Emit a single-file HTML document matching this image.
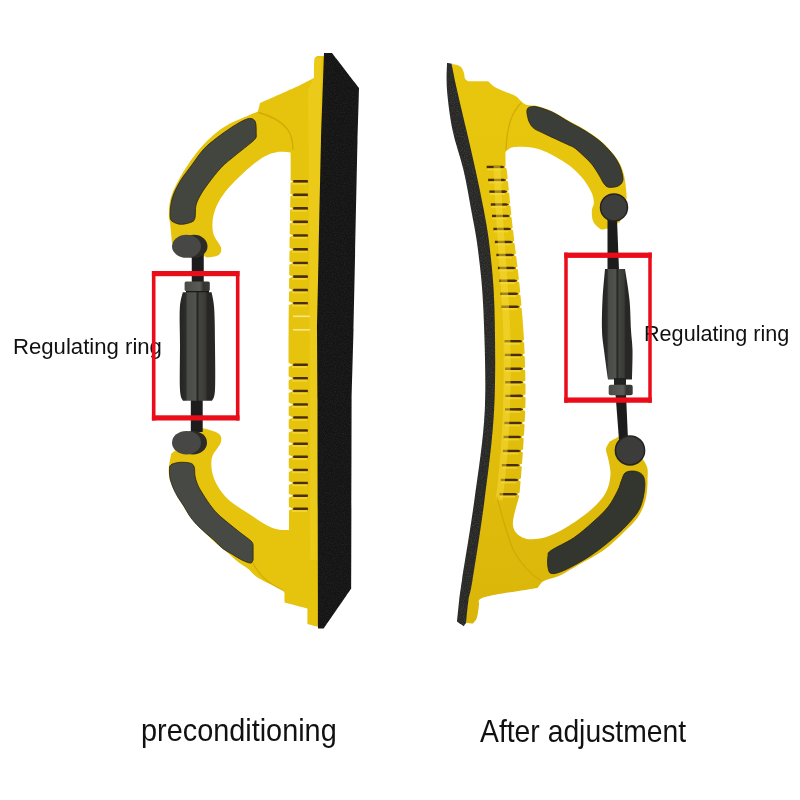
<!DOCTYPE html>
<html><head><meta charset="utf-8">
<style>
html,body{margin:0;padding:0;background:#fff;width:800px;height:800px;overflow:hidden}
svg{position:absolute;left:0;top:0}
.t{position:absolute;font-family:"Liberation Sans",sans-serif;color:#111;white-space:nowrap;transform-origin:0 0;line-height:normal}
</style></head><body>
<svg width="800" height="800" viewBox="0 0 800 800">
<path fill="#e6c30c" d="M314.2,61.0 C314.6,57.4 315.5,57.4 316.5,56.6 C317.5,55.8 318.4,56.1 320.0,56.0 C321.6,55.9 325.0,56.0 326.0,56.0 C325.7,70.0 324.3,126.0 324.0,140.0 C323.3,171.7 320.7,298.3 320.0,330.0 C320.2,379.5 320.8,577.5 321.0,627.0 C320.3,626.9 317.4,626.6 316.7,626.5 C315.1,626.1 308.9,624.4 307.4,624.0 C307.4,621.4 307.4,611.1 307.4,608.5 C303.6,607.5 288.3,603.4 284.5,602.4 C284.5,600.8 284.5,594.6 284.5,593.0 C284.3,592.6 283.5,590.9 283.3,590.5 C279.8,588.8 266.8,582.6 262.0,580.0 C257.2,577.4 256.7,576.9 254.4,575.0 C252.1,573.1 250.6,570.8 248.0,568.8 C245.4,566.7 242.1,565.1 238.8,562.5 C235.4,559.9 232.3,556.7 228.0,553.0 C223.7,549.3 218.5,545.7 213.0,540.5 C207.5,535.3 200.0,527.8 195.0,522.0 C190.0,516.2 186.7,511.2 183.0,505.5 C179.3,499.8 175.2,492.1 173.0,487.5 C170.8,482.9 170.2,481.2 169.5,478.0 C168.8,474.8 168.5,472.0 168.8,468.0 C169.1,464.0 170.8,456.2 171.2,453.8 C176.5,449.5 197.5,432.2 202.8,427.9 C205.4,428.8 215.5,431.1 218.5,433.5 C221.5,435.9 221.9,438.4 220.8,442.5 C219.7,446.6 212.9,452.3 211.8,458.3 C210.7,464.3 211.4,471.8 214.0,478.5 C216.6,485.2 221.5,492.8 227.5,498.8 C233.5,504.8 242.5,509.6 250.0,514.5 C257.5,519.4 266.0,525.4 272.5,528.0 C279.0,530.6 286.2,529.7 289.0,530.0 C288.9,502.5 288.7,398.3 288.6,365.0 C288.5,331.7 288.5,349.2 288.6,330.0 C288.8,310.8 289.2,274.8 289.5,250.0 C289.8,225.2 290.4,197.2 290.6,181.0 C290.8,164.8 290.6,157.2 290.6,152.5 C288.4,152.4 281.8,151.3 277.5,151.9 C273.2,152.5 269.2,154.1 265.0,156.2 C260.8,158.4 256.5,161.9 252.5,165.0 C248.5,168.1 245.0,171.5 241.2,175.0 C237.5,178.5 233.3,182.5 230.0,186.2 C226.7,190.0 223.8,193.5 221.2,197.5 C218.8,201.5 216.5,205.8 215.0,210.0 C213.5,214.2 212.7,218.3 212.5,222.5 C212.3,226.7 212.3,230.8 213.8,235.0 C215.2,239.2 220.2,244.2 221.0,247.5 C221.8,250.8 221.0,253.3 218.8,255.0 C216.5,256.7 209.4,257.1 207.5,257.5 C201.6,255.1 177.9,245.4 172.0,243.0 C171.7,239.6 170.5,226.7 170.0,222.5 C169.5,218.3 169.1,220.8 169.0,218.0 C168.9,215.2 168.7,209.7 169.3,205.5 C169.9,201.3 170.7,197.5 172.4,193.0 C174.1,188.5 176.8,183.4 179.5,178.5 C182.2,173.6 185.3,168.6 188.8,163.5 C192.3,158.4 196.3,152.8 200.5,148.0 C204.7,143.2 209.1,138.6 214.0,134.5 C218.9,130.4 224.4,126.6 230.0,123.5 C235.6,120.4 242.8,117.9 247.5,115.9 C252.2,113.9 256.2,112.2 258.0,111.5 C258.3,110.1 259.7,104.4 260.0,103.0 C266.7,100.0 293.3,88.2 300.0,85.2 C302.3,84.0 311.7,79.2 314.0,78.0 C314.0,75.2 313.8,64.6 314.2,61.0 Z" />
<g>
<path d="M292,181.4 L294,180.1 L307.5,180.1 Q308.8,181.4 307.5,182.7 L294,182.7 Z" fill="#4a2e00"/>
<path d="M288,179.0 Q291,180.6 293.5,181.4 Q291,182.2 288,183.8 Z" fill="#fffbe8"/>
<rect x="292" y="182.7" width="15" height="2" fill="#f8df4a" opacity="0.6"/>
<path d="M292,194.9 L294,193.6 L307.5,193.6 Q308.8,194.9 307.5,196.2 L294,196.2 Z" fill="#4a2e00"/>
<path d="M288,192.5 Q291,194.1 293.5,194.9 Q291,195.7 288,197.3 Z" fill="#fffbe8"/>
<rect x="292" y="196.2" width="15" height="2" fill="#f8df4a" opacity="0.6"/>
<path d="M292,208.4 L294,207.1 L307.5,207.1 Q308.8,208.4 307.5,209.7 L294,209.7 Z" fill="#4a2e00"/>
<path d="M288,206.0 Q291,207.6 293.5,208.4 Q291,209.2 288,210.8 Z" fill="#fffbe8"/>
<rect x="292" y="209.7" width="15" height="2" fill="#f8df4a" opacity="0.6"/>
<path d="M292,221.9 L294,220.6 L307.5,220.6 Q308.8,221.9 307.5,223.2 L294,223.2 Z" fill="#4a2e00"/>
<path d="M288,219.5 Q291,221.1 293.5,221.9 Q291,222.7 288,224.3 Z" fill="#fffbe8"/>
<rect x="292" y="223.2" width="15" height="2" fill="#f8df4a" opacity="0.6"/>
<path d="M292,235.5 L294,234.2 L307.5,234.2 Q308.8,235.5 307.5,236.8 L294,236.8 Z" fill="#4a2e00"/>
<path d="M288,233.1 Q291,234.7 293.5,235.5 Q291,236.3 288,237.9 Z" fill="#fffbe8"/>
<rect x="292" y="236.8" width="15" height="2" fill="#f8df4a" opacity="0.6"/>
<path d="M292,249.4 L294,248.1 L307.5,248.1 Q308.8,249.4 307.5,250.7 L294,250.7 Z" fill="#4a2e00"/>
<path d="M288,247.0 Q291,248.6 293.5,249.4 Q291,250.2 288,251.8 Z" fill="#fffbe8"/>
<rect x="292" y="250.7" width="15" height="2" fill="#f8df4a" opacity="0.6"/>
<path d="M292,263.0 L294,261.7 L307.5,261.7 Q308.8,263.0 307.5,264.3 L294,264.3 Z" fill="#4a2e00"/>
<path d="M288,260.6 Q291,262.2 293.5,263.0 Q291,263.8 288,265.4 Z" fill="#fffbe8"/>
<rect x="292" y="264.3" width="15" height="2" fill="#f8df4a" opacity="0.6"/>
<path d="M292,276.6 L294,275.3 L307.5,275.3 Q308.8,276.6 307.5,277.9 L294,277.9 Z" fill="#4a2e00"/>
<path d="M288,274.2 Q291,275.8 293.5,276.6 Q291,277.4 288,279.0 Z" fill="#fffbe8"/>
<rect x="292" y="277.9" width="15" height="2" fill="#f8df4a" opacity="0.6"/>
<path d="M292,290.1 L294,288.8 L307.5,288.8 Q308.8,290.1 307.5,291.4 L294,291.4 Z" fill="#4a2e00"/>
<path d="M288,287.7 Q291,289.3 293.5,290.1 Q291,290.9 288,292.5 Z" fill="#fffbe8"/>
<rect x="292" y="291.4" width="15" height="2" fill="#f8df4a" opacity="0.6"/>
<path d="M292,303.2 L294,301.9 L307.5,301.9 Q308.8,303.2 307.5,304.5 L294,304.5 Z" fill="#4a2e00"/>
<path d="M288,300.8 Q291,302.4 293.5,303.2 Q291,304.0 288,305.6 Z" fill="#fffbe8"/>
<rect x="292" y="304.5" width="15" height="2" fill="#f8df4a" opacity="0.6"/>
<path d="M292,364.8 L294,363.5 L307.5,363.5 Q308.8,364.8 307.5,366.1 L294,366.1 Z" fill="#4a2e00"/>
<path d="M288,362.4 Q291,364.0 293.5,364.8 Q291,365.6 288,367.2 Z" fill="#fffbe8"/>
<rect x="292" y="366.1" width="15" height="2" fill="#f8df4a" opacity="0.6"/>
<path d="M292,378.3 L294,377.0 L307.5,377.0 Q308.8,378.3 307.5,379.6 L294,379.6 Z" fill="#4a2e00"/>
<path d="M288,375.9 Q291,377.5 293.5,378.3 Q291,379.1 288,380.7 Z" fill="#fffbe8"/>
<rect x="292" y="379.6" width="15" height="2" fill="#f8df4a" opacity="0.6"/>
<path d="M292,391.0 L294,389.7 L307.5,389.7 Q308.8,391.0 307.5,392.3 L294,392.3 Z" fill="#4a2e00"/>
<path d="M288,388.6 Q291,390.2 293.5,391.0 Q291,391.8 288,393.4 Z" fill="#fffbe8"/>
<rect x="292" y="392.3" width="15" height="2" fill="#f8df4a" opacity="0.6"/>
<path d="M292,404.5 L294,403.2 L307.5,403.2 Q308.8,404.5 307.5,405.8 L294,405.8 Z" fill="#4a2e00"/>
<path d="M288,402.1 Q291,403.7 293.5,404.5 Q291,405.3 288,406.9 Z" fill="#fffbe8"/>
<rect x="292" y="405.8" width="15" height="2" fill="#f8df4a" opacity="0.6"/>
<path d="M292,417.5 L294,416.2 L307.5,416.2 Q308.8,417.5 307.5,418.8 L294,418.8 Z" fill="#4a2e00"/>
<path d="M288,415.1 Q291,416.7 293.5,417.5 Q291,418.3 288,419.9 Z" fill="#fffbe8"/>
<rect x="292" y="418.8" width="15" height="2" fill="#f8df4a" opacity="0.6"/>
<path d="M292,430.5 L294,429.2 L307.5,429.2 Q308.8,430.5 307.5,431.8 L294,431.8 Z" fill="#4a2e00"/>
<path d="M288,428.1 Q291,429.7 293.5,430.5 Q291,431.3 288,432.9 Z" fill="#fffbe8"/>
<rect x="292" y="431.8" width="15" height="2" fill="#f8df4a" opacity="0.6"/>
<path d="M292,443.8 L294,442.4 L307.5,442.4 Q308.8,443.8 307.5,445.1 L294,445.1 Z" fill="#4a2e00"/>
<path d="M288,441.4 Q291,442.9 293.5,443.8 Q291,444.6 288,446.1 Z" fill="#fffbe8"/>
<rect x="292" y="445.1" width="15" height="2" fill="#f8df4a" opacity="0.6"/>
<path d="M292,456.8 L294,455.4 L307.5,455.4 Q308.8,456.8 307.5,458.1 L294,458.1 Z" fill="#4a2e00"/>
<path d="M288,454.4 Q291,455.9 293.5,456.8 Q291,457.6 288,459.1 Z" fill="#fffbe8"/>
<rect x="292" y="458.1" width="15" height="2" fill="#f8df4a" opacity="0.6"/>
<path d="M292,470.0 L294,468.7 L307.5,468.7 Q308.8,470.0 307.5,471.3 L294,471.3 Z" fill="#4a2e00"/>
<path d="M288,467.6 Q291,469.2 293.5,470.0 Q291,470.8 288,472.4 Z" fill="#fffbe8"/>
<rect x="292" y="471.3" width="15" height="2" fill="#f8df4a" opacity="0.6"/>
<path d="M292,483.0 L294,481.7 L307.5,481.7 Q308.8,483.0 307.5,484.3 L294,484.3 Z" fill="#4a2e00"/>
<path d="M288,480.6 Q291,482.2 293.5,483.0 Q291,483.8 288,485.4 Z" fill="#fffbe8"/>
<rect x="292" y="484.3" width="15" height="2" fill="#f8df4a" opacity="0.6"/>
<path d="M292,495.8 L294,494.4 L307.5,494.4 Q308.8,495.8 307.5,497.1 L294,497.1 Z" fill="#4a2e00"/>
<path d="M288,493.4 Q291,494.9 293.5,495.8 Q291,496.6 288,498.1 Z" fill="#fffbe8"/>
<rect x="292" y="497.1" width="15" height="2" fill="#f8df4a" opacity="0.6"/>
<path d="M292,508.8 L294,507.4 L307.5,507.4 Q308.8,508.8 307.5,510.1 L294,510.1 Z" fill="#4a2e00"/>
<path d="M288,506.4 Q291,507.9 293.5,508.8 Q291,509.6 288,511.1 Z" fill="#fffbe8"/>
<rect x="292" y="510.1" width="15" height="2" fill="#f8df4a" opacity="0.6"/>
<rect x="293" y="315.5" width="17" height="1.6" fill="#f8e48a"/>
<rect x="293" y="329.0" width="17" height="1.6" fill="#f8e48a"/>
</g>
<path d="M314,58 L321,58 L317.5,560 L310,560 L309.5,300 L308,90 L314,78 Z" fill="#f8dc3c" opacity="0.3"/>
<path d="M258.5,112.5 C268,115 280,119 288,130 C292,136 293,142 293,150" fill="none" stroke="#c9a000" stroke-width="1.3" opacity="0.7"/>
<path d="M253,563 C258,574 266,582 284,591" fill="none" stroke="#c9a000" stroke-width="1.3" opacity="0.6"/>
<path d="M175,470 C178,500 195,525 220,545" fill="none" stroke="#f9e37a" stroke-width="2" opacity="0"/>
<defs><filter id="nz" x="0" y="0" width="100%" height="100%"><feTurbulence type="fractalNoise" baseFrequency="0.9" numOctaves="2" seed="3" result="t"/><feColorMatrix in="t" type="matrix" values="0 0 0 0 0.55  0 0 0 0 0.55  0 0 0 0 0.5  0 0 0 -2.2 1.35" result="n"/><feComposite in="n" in2="SourceGraphic" operator="in"/></filter></defs>
<path fill="#141414" d="M324.0,53.0 C325.3,53.0 330.7,53.0 332.0,53.0 C336.5,58.8 354.5,82.2 359.0,88.0 C358.8,96.7 357.8,131.3 357.5,140.0 C356.8,171.7 354.2,298.3 353.5,330.0 C353.2,341.7 351.9,388.3 351.6,400.0 C351.5,431.4 351.3,557.0 351.2,588.4 C346.6,595.1 328.2,621.9 323.6,628.6 C322.7,628.6 318.9,628.4 318.0,628.4 C317.9,590.3 317.6,438.1 317.5,400.0 C317.4,388.3 317.1,341.7 317.0,330.0 C317.7,298.3 320.3,171.7 321.0,140.0 C321.5,125.5 323.5,67.5 324.0,53.0 Z" />
<path fill="#000" d="M324.0,53.0 C325.3,53.0 330.7,53.0 332.0,53.0 C336.5,58.8 354.5,82.2 359.0,88.0 C358.8,96.7 357.8,131.3 357.5,140.0 C356.8,171.7 354.2,298.3 353.5,330.0 C353.2,341.7 351.9,388.3 351.6,400.0 C351.5,431.4 351.3,557.0 351.2,588.4 C346.6,595.1 328.2,621.9 323.6,628.6 C322.7,628.6 318.9,628.4 318.0,628.4 C317.9,590.3 317.6,438.1 317.5,400.0 C317.4,388.3 317.1,341.7 317.0,330.0 C317.7,298.3 320.3,171.7 321.0,140.0 C321.5,125.5 323.5,67.5 324.0,53.0 Z" filter="url(#nz)" opacity="0.08"/>
<path fill="#43453f" d="M251.0,118.5 C252.9,118.8 254.5,119.7 255.4,122.0 C256.3,124.3 256.2,129.7 256.2,132.5 C256.2,135.3 256.9,136.4 255.4,138.6 C253.9,140.8 251.0,142.7 247.5,145.6 C244.0,148.5 238.8,152.4 234.4,156.1 C230.0,159.8 225.6,162.9 221.2,167.5 C216.9,172.1 211.6,179.0 208.1,183.7 C204.6,188.4 202.0,192.2 200.0,195.9 C198.0,199.6 196.7,202.0 195.9,205.7 C195.1,209.3 195.7,215.1 195.0,217.8 C194.3,220.5 194.1,220.8 191.8,221.9 C189.5,223.0 184.4,224.3 181.2,224.3 C178.1,224.3 174.9,223.0 173.1,221.9 C171.3,220.8 170.7,220.5 170.3,217.8 C169.9,215.1 170.1,209.8 170.7,205.7 C171.3,201.6 172.1,197.8 173.9,193.5 C175.7,189.2 178.3,184.3 181.2,179.6 C184.2,174.8 188.1,170.1 191.8,165.0 C195.6,159.9 199.6,153.6 203.8,149.1 C207.9,144.6 212.2,141.4 216.9,137.8 C221.6,134.1 227.2,130.2 231.8,127.2 C236.3,124.3 240.8,121.7 244.0,120.2 C247.2,118.8 249.1,118.2 251.0,118.5 Z" stroke="#2a2410" stroke-width="0.8"/>
<path fill="#474944" d="M171.0,464.8 C172.8,463.5 176.8,462.6 180.0,462.3 C183.2,462.1 188.1,462.5 190.5,463.2 C192.9,464.0 193.5,464.9 194.2,467.0 C195.0,469.1 194.5,473.2 195.0,476.0 C195.5,478.8 196.2,481.0 197.2,483.5 C198.2,486.0 198.9,487.5 201.0,491.0 C203.1,494.5 207.2,501.0 210.0,504.8 C212.8,508.5 214.4,510.6 217.5,513.8 C220.6,516.9 225.0,520.4 228.8,523.5 C232.5,526.6 236.2,529.5 240.0,532.5 C243.8,535.5 249.1,539.2 251.2,541.2 C253.4,543.3 252.8,544.4 253.1,545.0 C253.1,547.5 253.1,557.5 253.1,560.0 C252.7,560.5 252.5,563.1 250.6,563.1 C248.7,563.1 244.9,561.5 241.9,560.0 C238.9,558.5 235.6,556.3 232.5,554.4 C229.4,552.5 226.2,551.1 223.1,548.8 C220.0,546.4 217.2,543.1 213.8,540.0 C210.3,536.9 205.6,533.1 202.5,530.2 C199.4,527.4 197.2,525.3 195.0,522.8 C192.8,520.2 190.9,517.8 189.0,515.0 C187.1,512.2 185.6,509.0 183.8,506.0 C181.9,503.0 179.5,500.0 177.8,497.0 C176.0,494.0 174.5,491.0 173.2,488.0 C172.0,485.0 170.9,482.0 170.2,479.0 C169.6,476.0 169.4,472.4 169.5,470.0 C169.6,467.6 169.2,466.0 171.0,464.8 Z" stroke="#2a2410" stroke-width="0.8"/>
<rect x="191.75" y="252" width="12" height="32" fill="#1c1c1c"/>
<rect x="190.8" y="398" width="11.9" height="34" fill="#1c1c1c"/>
<ellipse cx="194" cy="246.3" rx="13.5" ry="11.5" fill="#2c2b28"/><ellipse cx="186.5" cy="246.3" rx="14.5" ry="11.5" fill="#474845"/>
<ellipse cx="193" cy="442.7" rx="14" ry="11.8" fill="#2c2b28"/><ellipse cx="186.5" cy="442.7" rx="14.5" ry="11.8" fill="#474845"/>
<defs><linearGradient id="tbg" x1="0" y1="0" x2="1" y2="0"><stop offset="0" stop-color="#242422"/><stop offset="0.17" stop-color="#2c2d2a"/><stop offset="0.22" stop-color="#4a4c48"/><stop offset="0.45" stop-color="#50524e"/><stop offset="0.5" stop-color="#242422"/><stop offset="0.56" stop-color="#42443f"/><stop offset="0.72" stop-color="#3a3b37"/><stop offset="0.78" stop-color="#272624"/><stop offset="1" stop-color="#2a2826"/></linearGradient><linearGradient id="nutg" x1="0" y1="0" x2="1" y2="0"><stop offset="0" stop-color="#4a4a47"/><stop offset="0.6" stop-color="#5a5a57"/><stop offset="0.75" stop-color="#333331"/><stop offset="1" stop-color="#3a3a38"/></linearGradient></defs>
<rect x="186" y="289" width="23" height="5" fill="#1a1a19"/><rect x="184.6" y="281.4" width="25.2" height="9.6" rx="1.5" fill="url(#nutg)"/>
<path fill="url(#tbg)" d="M182.8,292.2 C187.6,292.2 206.8,292.2 211.6,292.2 C212.0,295.0 213.7,300.0 214.2,308.8 C214.8,317.5 214.9,331.5 215.0,345.0 C215.1,358.5 215.5,380.7 215.0,390.0 C214.5,399.3 212.5,399.0 212.0,400.8 C207.2,400.8 187.8,400.8 183.0,400.8 C182.5,399.0 180.5,399.3 180.0,390.0 C179.5,380.7 180.0,358.5 180.0,345.0 C180.0,331.5 179.3,317.5 179.8,308.8 C180.2,300.0 182.2,295.0 182.8,292.2 Z" />
<defs><linearGradient id="gry" x1="0" y1="60" x2="0" y2="640" gradientUnits="userSpaceOnUse"><stop offset="0" stop-color="#e8c60e"/><stop offset="0.45" stop-color="#e6c30c"/><stop offset="1" stop-color="#d9b50a"/></linearGradient></defs>
<path fill="url(#gry)" d="M451.5,64.0 C452.2,64.1 454.4,64.3 456.0,64.8 C457.6,65.3 459.7,65.7 461.0,67.0 C462.3,68.3 463.1,70.6 463.8,72.5 C464.5,74.4 464.3,77.0 465.0,78.5 C465.7,80.0 467.5,80.8 468.0,81.2 C471.4,81.2 484.8,81.2 488.2,81.2 C489.6,82.3 492.1,85.6 496.5,88.0 C500.9,90.4 510.4,93.3 514.5,95.5 C518.6,97.7 519.1,99.6 521.2,101.2 C523.3,102.8 524.2,104.2 526.9,105.0 C529.6,105.8 533.2,104.9 537.5,106.0 C541.8,107.1 547.1,108.9 552.5,111.5 C557.9,114.1 564.6,118.5 570.0,121.5 C575.4,124.5 580.0,126.6 585.0,129.8 C590.0,132.9 595.6,136.6 600.0,140.2 C604.4,143.9 608.0,147.7 611.2,151.5 C614.5,155.3 617.4,159.1 619.5,163.0 C621.6,166.9 622.9,170.3 624.0,175.0 C625.1,179.7 625.9,186.4 626.2,191.0 C626.6,195.6 627.0,197.2 626.0,202.4 C625.0,207.6 621.0,218.7 620.0,222.0 C618.2,223.1 611.1,227.6 609.3,228.7 C608.8,228.7 607.6,228.6 606.2,228.8 C604.9,228.9 602.9,229.9 601.2,229.4 C599.6,228.9 597.7,227.3 596.2,225.6 C594.8,223.9 593.2,222.0 592.5,219.4 C591.8,216.8 591.7,212.6 591.9,210.0 C592.1,207.4 593.6,206.2 593.8,203.8 C593.9,201.2 593.5,198.0 592.5,195.0 C591.5,192.0 589.8,188.9 588.0,186.0 C586.2,183.1 584.9,180.8 581.9,177.5 C578.9,174.2 574.5,169.5 570.0,166.0 C565.5,162.5 560.0,159.2 555.0,156.5 C550.0,153.8 544.8,151.1 540.0,149.5 C535.2,147.9 530.7,147.3 526.0,147.0 C521.3,146.7 515.4,146.7 512.0,147.5 C508.6,148.3 506.6,151.2 505.5,152.0 C505.5,154.3 505.5,163.7 505.5,166.0 C505.8,167.0 505.8,161.3 507.0,172.0 C508.2,182.7 510.9,211.2 513.0,230.0 C515.1,248.8 517.7,266.7 519.5,285.0 C521.3,303.3 523.0,320.8 524.0,340.0 C525.0,359.2 525.7,381.7 525.5,400.0 C525.3,418.3 524.0,434.2 523.0,450.0 C522.0,465.8 520.1,487.5 519.5,495.0 C518.4,499.9 512.4,517.4 512.9,524.5 C513.4,531.6 518.0,535.2 522.5,537.5 C527.0,539.8 533.8,539.6 540.0,538.5 C546.2,537.4 552.9,534.7 560.0,531.0 C567.1,527.3 576.2,521.2 582.5,516.5 C588.8,511.8 593.9,507.4 598.0,503.0 C602.1,498.6 604.9,494.8 607.0,490.0 C609.1,485.2 610.3,479.3 610.5,474.0 C610.7,468.7 608.8,462.2 608.0,458.0 C607.2,453.8 605.7,451.8 606.0,449.0 C606.3,446.2 609.1,442.8 609.8,441.5 C611.5,440.6 618.3,436.9 620.0,436.0 C624.1,440.3 640.1,454.6 644.7,461.9 C649.3,469.2 647.4,473.6 647.5,480.0 C647.6,486.4 647.1,493.8 645.5,500.0 C643.9,506.2 641.6,511.7 638.0,517.0 C634.4,522.3 629.7,526.5 624.0,532.0 C618.3,537.5 611.3,544.7 604.0,550.0 C596.7,555.3 587.3,559.8 580.0,564.0 C572.7,568.2 565.4,572.9 560.0,575.5 C554.6,578.1 550.5,578.4 547.5,579.5 C544.5,580.6 542.8,581.8 541.8,582.3 C541.1,583.2 538.2,587.0 537.5,588.0 C528.8,589.5 494.8,594.2 485.0,597.0 C475.2,599.8 480.0,603.2 479.0,604.5 C478.7,606.7 478.0,614.3 477.0,617.5 C476.0,620.7 473.7,622.5 473.0,623.5 C471.5,623.4 465.5,623.1 464.0,623.0 C464.3,619.2 465.0,607.2 466.0,600.0 C467.0,592.8 467.3,596.7 470.0,580.0 C472.7,563.3 478.5,528.3 482.0,500.0 C485.5,471.7 489.4,441.7 491.0,410.0 C492.6,378.3 492.2,336.7 491.5,310.0 C490.8,283.3 488.8,266.7 487.0,250.0 C485.2,233.3 483.3,223.3 481.0,210.0 C478.7,196.7 475.8,183.3 473.0,170.0 C470.2,156.7 467.0,143.3 464.0,130.0 C461.0,116.7 457.1,101.0 455.0,90.0 C452.9,79.0 452.1,68.3 451.5,64.0 Z" />
<path d="M486.7,165.8 L502.2,165.7 L505.2,167.0 L502.2,168.3 L486.7,168.2 Z" fill="#4a2e00"/>
<rect x="487.2" y="168.4" width="15" height="2" fill="#f8df4a" opacity="0.6"/>
<path d="M509.2,164.8 L504.7,166.2 L504.7,167.8 L509.2,169.2 Z" fill="#fff"/>
<path d="M488.1,178.8 L503.6,178.7 L506.6,180.0 L503.6,181.3 L488.1,181.2 Z" fill="#4a2e00"/>
<rect x="488.6" y="181.4" width="15" height="2" fill="#f8df4a" opacity="0.6"/>
<path d="M510.6,177.8 L506.1,179.2 L506.1,180.8 L510.6,182.2 Z" fill="#fff"/>
<path d="M489.4,190.4 L504.9,190.3 L507.9,191.6 L504.9,192.9 L489.4,192.8 Z" fill="#4a2e00"/>
<rect x="489.9" y="193.0" width="15" height="2" fill="#f8df4a" opacity="0.6"/>
<path d="M511.9,189.4 L507.4,190.8 L507.4,192.4 L511.9,193.8 Z" fill="#fff"/>
<path d="M490.8,203.3 L506.3,203.2 L509.3,204.5 L506.3,205.8 L490.8,205.7 Z" fill="#4a2e00"/>
<rect x="491.3" y="205.9" width="15" height="2" fill="#f8df4a" opacity="0.6"/>
<path d="M513.3,202.3 L508.8,203.7 L508.8,205.3 L513.3,206.7 Z" fill="#fff"/>
<path d="M492.0,214.8 L507.5,214.7 L510.5,216.0 L507.5,217.3 L492.0,217.2 Z" fill="#4a2e00"/>
<rect x="492.5" y="217.4" width="15" height="2" fill="#f8df4a" opacity="0.6"/>
<path d="M514.5,213.8 L510.0,215.2 L510.0,216.8 L514.5,218.2 Z" fill="#fff"/>
<path d="M493.4,227.8 L508.9,227.7 L511.9,229.0 L508.9,230.3 L493.4,230.2 Z" fill="#4a2e00"/>
<rect x="493.9" y="230.4" width="15" height="2" fill="#f8df4a" opacity="0.6"/>
<path d="M515.9,226.8 L511.4,228.2 L511.4,229.8 L515.9,231.2 Z" fill="#fff"/>
<path d="M494.9,240.8 L510.4,240.7 L513.4,242.0 L510.4,243.3 L494.9,243.2 Z" fill="#4a2e00"/>
<rect x="495.4" y="243.4" width="15" height="2" fill="#f8df4a" opacity="0.6"/>
<path d="M517.4,239.8 L512.9,241.2 L512.9,242.8 L517.4,244.2 Z" fill="#fff"/>
<path d="M496.4,253.8 L511.9,253.7 L514.9,255.0 L511.9,256.3 L496.4,256.2 Z" fill="#4a2e00"/>
<rect x="496.9" y="256.4" width="15" height="2" fill="#f8df4a" opacity="0.6"/>
<path d="M518.9,252.8 L514.4,254.2 L514.4,255.8 L518.9,257.2 Z" fill="#fff"/>
<path d="M497.9,266.8 L513.4,266.7 L516.4,268.0 L513.4,269.3 L497.9,269.2 Z" fill="#4a2e00"/>
<rect x="498.4" y="269.4" width="15" height="2" fill="#f8df4a" opacity="0.6"/>
<path d="M520.4,265.8 L515.9,267.2 L515.9,268.8 L520.4,270.2 Z" fill="#fff"/>
<path d="M499.4,279.6 L514.9,279.5 L517.9,280.8 L514.9,282.1 L499.4,282.0 Z" fill="#4a2e00"/>
<rect x="499.9" y="282.2" width="15" height="2" fill="#f8df4a" opacity="0.6"/>
<path d="M521.9,278.6 L517.4,280.0 L517.4,281.6 L521.9,283.0 Z" fill="#fff"/>
<path d="M500.6,292.5 L516.1,292.4 L519.1,293.7 L516.1,295.0 L500.6,294.9 Z" fill="#4a2e00"/>
<rect x="501.1" y="295.1" width="15" height="2" fill="#f8df4a" opacity="0.6"/>
<path d="M523.1,291.5 L518.6,292.9 L518.6,294.5 L523.1,295.9 Z" fill="#fff"/>
<path d="M501.7,305.5 L517.2,305.4 L520.2,306.7 L517.2,308.0 L501.7,307.9 Z" fill="#4a2e00"/>
<rect x="502.2" y="308.1" width="15" height="2" fill="#f8df4a" opacity="0.6"/>
<path d="M524.2,304.5 L519.7,305.9 L519.7,307.5 L524.2,308.9 Z" fill="#fff"/>
<path d="M504.5,340.0 L520.0,339.9 L523.0,341.2 L520.0,342.5 L504.5,342.4 Z" fill="#4a2e00"/>
<rect x="505.0" y="342.6" width="15" height="2" fill="#f8df4a" opacity="0.6"/>
<path d="M527.0,339.0 L522.5,340.4 L522.5,342.0 L527.0,343.4 Z" fill="#fff"/>
<path d="M504.8,353.8 L520.2,353.7 L523.2,355.0 L520.2,356.3 L504.8,356.2 Z" fill="#4a2e00"/>
<rect x="505.2" y="356.4" width="15" height="2" fill="#f8df4a" opacity="0.6"/>
<path d="M527.2,352.8 L522.8,354.2 L522.8,355.8 L527.2,357.2 Z" fill="#fff"/>
<path d="M505.0,367.6 L520.5,367.4 L523.5,368.8 L520.5,370.1 L505.0,369.9 Z" fill="#4a2e00"/>
<rect x="505.5" y="370.1" width="15" height="2" fill="#f8df4a" opacity="0.6"/>
<path d="M527.5,366.6 L523.0,367.9 L523.0,369.6 L527.5,370.9 Z" fill="#fff"/>
<path d="M505.2,381.1 L520.7,381.0 L523.7,382.3 L520.7,383.6 L505.2,383.5 Z" fill="#4a2e00"/>
<rect x="505.7" y="383.7" width="15" height="2" fill="#f8df4a" opacity="0.6"/>
<path d="M527.7,380.1 L523.2,381.5 L523.2,383.1 L527.7,384.5 Z" fill="#fff"/>
<path d="M505.4,394.7 L520.9,394.6 L523.9,395.9 L520.9,397.2 L505.4,397.1 Z" fill="#4a2e00"/>
<rect x="505.9" y="397.3" width="15" height="2" fill="#f8df4a" opacity="0.6"/>
<path d="M527.9,393.7 L523.4,395.1 L523.4,396.7 L527.9,398.1 Z" fill="#fff"/>
<path d="M505.0,408.2 L520.5,408.1 L523.5,409.4 L520.5,410.7 L505.0,410.6 Z" fill="#4a2e00"/>
<rect x="505.5" y="410.8" width="15" height="2" fill="#f8df4a" opacity="0.6"/>
<path d="M527.5,407.2 L523.0,408.6 L523.0,410.2 L527.5,411.6 Z" fill="#fff"/>
<path d="M504.4,421.8 L519.9,421.7 L522.9,423.0 L519.9,424.3 L504.4,424.2 Z" fill="#4a2e00"/>
<rect x="504.9" y="424.4" width="15" height="2" fill="#f8df4a" opacity="0.6"/>
<path d="M526.9,420.8 L522.4,422.2 L522.4,423.8 L526.9,425.2 Z" fill="#fff"/>
<path d="M503.6,435.8 L519.1,435.7 L522.1,437.0 L519.1,438.3 L503.6,438.2 Z" fill="#4a2e00"/>
<rect x="504.1" y="438.4" width="15" height="2" fill="#f8df4a" opacity="0.6"/>
<path d="M526.1,434.8 L521.6,436.2 L521.6,437.8 L526.1,439.2 Z" fill="#fff"/>
<path d="M502.9,449.8 L518.4,449.7 L521.4,451.0 L518.4,452.3 L502.9,452.2 Z" fill="#4a2e00"/>
<rect x="503.4" y="452.4" width="15" height="2" fill="#f8df4a" opacity="0.6"/>
<path d="M525.4,448.8 L520.9,450.2 L520.9,451.8 L525.4,453.2 Z" fill="#fff"/>
<path d="M501.8,464.0 L517.3,463.9 L520.3,465.2 L517.3,466.5 L501.8,466.4 Z" fill="#4a2e00"/>
<rect x="502.3" y="466.6" width="15" height="2" fill="#f8df4a" opacity="0.6"/>
<path d="M524.3,463.0 L519.8,464.4 L519.8,466.0 L524.3,467.4 Z" fill="#fff"/>
<path d="M500.7,478.8 L516.2,478.7 L519.2,480.0 L516.2,481.3 L500.7,481.2 Z" fill="#4a2e00"/>
<rect x="501.2" y="481.4" width="15" height="2" fill="#f8df4a" opacity="0.6"/>
<path d="M523.2,477.8 L518.7,479.2 L518.7,480.8 L523.2,482.2 Z" fill="#fff"/>
<path d="M499.6,493.1 L515.1,492.9 L518.1,494.2 L515.1,495.6 L499.6,495.4 Z" fill="#4a2e00"/>
<rect x="500.1" y="495.6" width="15" height="2" fill="#f8df4a" opacity="0.6"/>
<path d="M522.1,492.1 L517.6,493.4 L517.6,495.1 L522.1,496.4 Z" fill="#fff"/>
<path fill="#262724" d="M447.0,63.0 C447.8,63.1 450.8,63.4 451.5,63.5 C452.4,67.9 454.5,78.9 457.0,90.0 C459.5,101.1 463.3,116.7 466.4,130.0 C469.5,143.3 472.6,156.7 475.5,170.0 C478.4,183.3 481.3,196.7 483.8,210.0 C486.2,223.3 488.2,233.3 490.0,250.0 C491.8,266.7 493.8,283.3 494.5,310.0 C495.2,336.7 495.8,378.3 494.1,410.0 C492.4,441.7 488.1,471.7 484.5,500.0 C480.9,528.3 475.2,563.3 472.5,580.0 C469.8,596.7 469.6,592.8 468.5,600.0 C467.4,607.2 466.4,619.2 466.0,623.0 C465.6,623.5 464.1,625.7 463.8,626.2 C462.6,625.5 458.1,622.3 457.0,621.5 C457.4,617.9 458.4,606.9 459.2,600.0 C460.1,593.1 459.5,596.7 462.0,580.0 C464.5,563.3 470.6,528.3 474.4,500.0 C478.2,471.7 483.2,441.7 484.8,410.0 C486.2,378.3 484.5,336.7 483.4,310.0 C482.3,283.3 480.0,266.7 478.0,250.0 C476.0,233.3 473.6,223.3 471.2,210.0 C468.8,196.7 466.6,183.3 463.5,170.0 C460.4,156.7 455.2,143.3 452.5,130.0 C449.8,116.7 447.9,101.2 447.0,90.0 C446.1,78.8 447.0,67.5 447.0,63.0 Z" />
<path fill="#000" d="M447.0,63.0 C447.8,63.1 450.8,63.4 451.5,63.5 C452.4,67.9 454.5,78.9 457.0,90.0 C459.5,101.1 463.3,116.7 466.4,130.0 C469.5,143.3 472.6,156.7 475.5,170.0 C478.4,183.3 481.3,196.7 483.8,210.0 C486.2,223.3 488.2,233.3 490.0,250.0 C491.8,266.7 493.8,283.3 494.5,310.0 C495.2,336.7 495.8,378.3 494.1,410.0 C492.4,441.7 488.1,471.7 484.5,500.0 C480.9,528.3 475.2,563.3 472.5,580.0 C469.8,596.7 469.6,592.8 468.5,600.0 C467.4,607.2 466.4,619.2 466.0,623.0 C465.6,623.5 464.1,625.7 463.8,626.2 C462.6,625.5 458.1,622.3 457.0,621.5 C457.4,617.9 458.4,606.9 459.2,600.0 C460.1,593.1 459.5,596.7 462.0,580.0 C464.5,563.3 470.6,528.3 474.4,500.0 C478.2,471.7 483.2,441.7 484.8,410.0 C486.2,378.3 484.5,336.7 483.4,310.0 C482.3,283.3 480.0,266.7 478.0,250.0 C476.0,233.3 473.6,223.3 471.2,210.0 C468.8,196.7 466.6,183.3 463.5,170.0 C460.4,156.7 455.2,143.3 452.5,130.0 C449.8,116.7 447.9,101.2 447.0,90.0 C446.1,78.8 447.0,67.5 447.0,63.0 Z" filter="url(#nz)" opacity="0.15"/>
<path d="M497,166 C499,230 506,290 507,340 C508,400 506,450 499,500" fill="none" stroke="#f8dc3c" stroke-width="7" opacity="0.5"/>
<path d="M521,103 C512,112 507,125 506,150" fill="none" stroke="#c9a000" stroke-width="1.3" opacity="0.7"/>
<path d="M497,497 C503,520 510,545 515,553 C522,565 532,575 541,581" fill="none" stroke="#c9a000" stroke-width="1.3" opacity="0.6"/>
<path fill="#3b3d39" d="M527.0,110.0 C527.4,108.2 528.2,107.5 530.0,107.0 C531.8,106.5 533.8,106.1 537.5,107.0 C541.2,107.9 547.1,109.7 552.5,112.2 C557.9,114.8 564.6,119.4 570.0,122.5 C575.4,125.6 580.0,127.6 585.0,130.8 C590.0,133.9 595.6,137.6 600.0,141.2 C604.4,144.9 608.1,148.8 611.2,152.5 C614.4,156.2 616.9,160.0 618.8,163.8 C620.6,167.5 621.9,172.0 622.5,175.0 C623.1,178.0 623.3,179.7 622.5,181.6 C621.7,183.5 620.1,185.3 617.8,186.2 C615.4,187.2 610.7,187.7 608.4,187.2 C606.1,186.7 605.3,185.4 603.8,183.4 C602.2,181.4 600.9,178.1 599.0,175.0 C597.1,171.9 594.8,168.0 592.5,165.0 C590.2,162.0 587.9,160.0 585.0,157.2 C582.1,154.5 577.9,150.4 575.0,148.2 C572.1,146.1 570.6,146.0 567.5,144.5 C564.4,143.0 560.0,141.0 556.2,139.2 C552.5,137.5 548.6,135.8 545.0,134.0 C541.4,132.2 537.0,130.5 534.5,128.8 C532.0,127.0 531.1,125.4 530.0,123.5 C528.9,121.6 528.2,119.8 527.8,117.5 C527.2,115.2 526.6,111.8 527.0,110.0 Z" stroke="#2a2410" stroke-width="0.8"/>
<path fill="#33352f" d="M625.6,472.5 C628.1,470.9 633.2,470.7 636.2,471.4 C639.2,472.1 642.2,473.6 643.6,476.7 C645.0,479.8 645.2,484.6 644.5,490.0 C643.8,495.4 642.4,503.2 639.5,509.0 C636.6,514.8 631.8,519.8 627.0,525.0 C622.2,530.2 617.2,534.8 611.0,540.0 C604.8,545.2 597.7,551.0 590.0,556.0 C582.3,561.0 571.5,567.1 565.0,570.0 C558.5,572.9 554.1,574.2 551.2,573.5 C548.4,572.8 548.3,568.9 547.8,566.0 C547.3,563.1 547.5,558.6 548.0,556.0 C548.5,553.4 546.7,553.5 551.0,550.5 C555.3,547.5 566.8,542.5 573.8,537.8 C580.8,533.0 587.3,527.1 593.0,522.0 C598.7,516.9 603.8,512.3 608.0,507.0 C612.2,501.7 615.8,494.3 618.0,490.0 C620.2,485.7 620.0,483.9 621.3,481.0 C622.6,478.1 623.1,474.1 625.6,472.5 Z" stroke="#2a2410" stroke-width="0.8"/>
<path fill="#1c1c1c" d="M607.5,219 L617,219 L619,270 L607.5,270 Z"/>
<path fill="#1c1c1c" d="M615.5,394 L626,394 L628,440 L619,440 Z"/>
<ellipse cx="614" cy="207.4" rx="13.5" ry="13.5" fill="#3e3e3c" stroke="#252422" stroke-width="1.5"/><ellipse cx="630" cy="450.4" rx="14.6" ry="14.5" fill="#3c3c3a" stroke="#252422" stroke-width="1.5"/>
<path fill="url(#tbg)" d="M605.0,269.0 C608.3,269.0 621.7,269.0 625.0,269.0 C625.8,274.2 628.5,289.8 629.5,300.0 C630.5,310.2 630.5,321.7 631.0,330.0 C631.5,338.3 632.3,341.8 632.5,350.0 C632.7,358.2 632.1,374.6 632.0,379.5 C628.0,379.5 612.0,379.5 608.0,379.5 C607.3,374.6 605.0,358.2 604.0,350.0 C603.0,341.8 602.2,338.3 602.0,330.0 C601.8,321.7 602.0,310.2 602.5,300.0 C603.0,289.8 604.6,274.2 605.0,269.0 Z" />
<rect x="614" y="378" width="12" height="8" fill="#222"/><rect x="608.7" y="384.7" width="24" height="10.5" rx="2" fill="url(#nutg)"/>
</svg>
<div class="t" style="left:12.5px;top:334.1px;font-size:22.5px;transform:scaleX(0.984)">Regulating ring</div>
<div class="t" style="left:643.5px;top:322px;font-size:21.5px;transform:scaleX(1.005)">Regulating ring</div>
<svg width="800" height="800" viewBox="0 0 800 800"><rect x="151.9" y="271" width="87.60" height="5.2" fill="#ea0c18"/><rect x="151.9" y="415.30" width="87.60" height="5.2" fill="#ea0c18"/><rect x="151.9" y="271" width="3.6" height="149.50" fill="#ea0c18"/><rect x="235.90" y="271" width="3.6" height="149.50" fill="#ea0c18"/><rect x="564.25" y="252.6" width="87.50" height="5.3" fill="#ea0c18"/><rect x="564.25" y="397.45" width="87.50" height="5.3" fill="#ea0c18"/><rect x="564.25" y="252.6" width="3.5" height="150.15" fill="#ea0c18"/><rect x="648.25" y="252.6" width="3.5" height="150.15" fill="#ea0c18"/></svg>
<div class="t" style="left:141px;top:712.6px;font-size:30.5px;transform:scaleX(0.946)">preconditioning</div>
<div class="t" style="left:480px;top:714.3px;font-size:30.5px;transform:scaleX(0.928)">After adjustment</div>
</body></html>
